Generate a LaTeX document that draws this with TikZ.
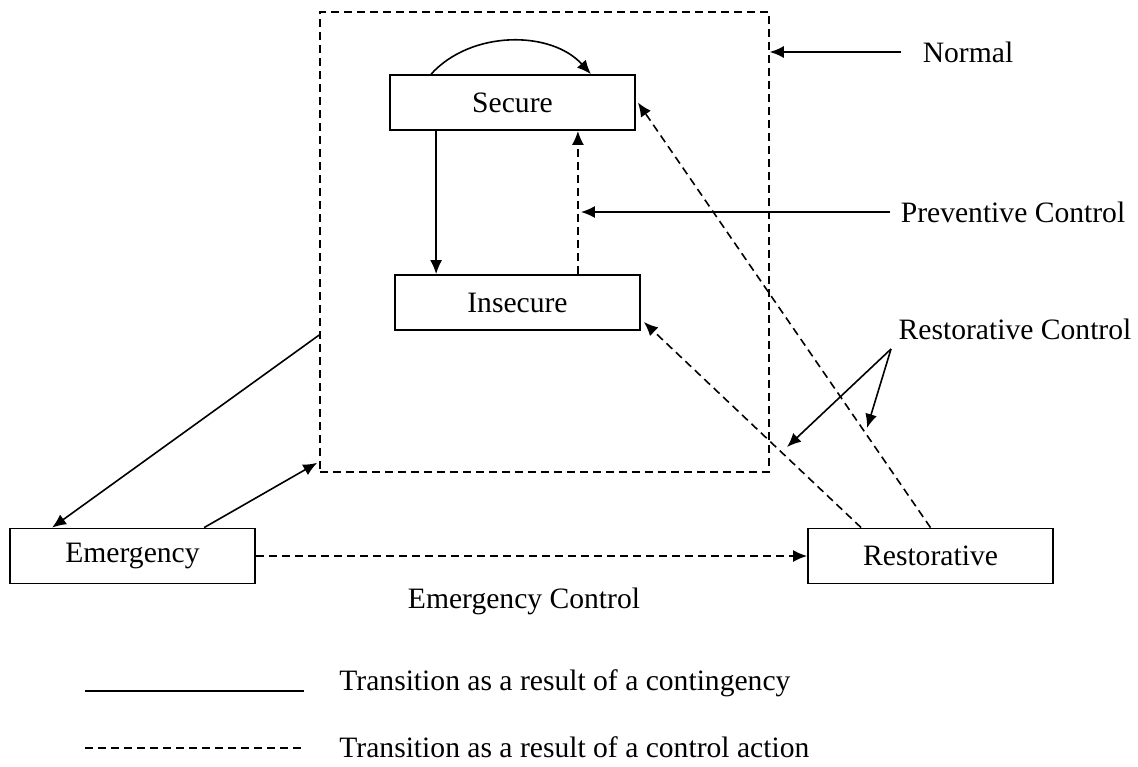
\documentclass[tikz,border=0pt]{standalone}
\usepackage{fontspec}
\setmainfont{Liberation Serif}
\usetikzlibrary{arrows.meta}
\tikzset{
	statebox/.style={draw=black, line width=0.9pt, minimum width=122.5pt, minimum height=27.5pt, inner sep=0pt, font=\fontsize{14.8}{17}\selectfont},
	lbl/.style={inner sep=0pt, font=\fontsize{14.8}{17}\selectfont},
	trans/.style={black, line width=0.8pt},
	ctrl/.style={black, line width=0.8pt, dash pattern=on 4pt off 2.5pt},
	tip/.style={-{Latex[length=7pt,width=6pt]}}
}
\begin{document}
\begin{tikzpicture}[x=0.5pt, y=-0.5pt]
	\useasboundingbox (0,0) rectangle (1138,766);
	\node[ctrl, draw, minimum width=224.5pt, minimum height=230pt, inner sep=0pt] (normal) at (544.5,242) {};
	\node[statebox] (secure) at (512.5,102.5) {Secure};
	\node[statebox] (insecure) at (517.5,302.5) {Insecure};
	\node[statebox] (emergency) at (132.5,556) {Emergency};
	\node[statebox] (restorative) at (930.5,556) {Restorative};
	\node[lbl] (normallbl) at (968,52) {Normal};
	\node[lbl] (prevlbl) at (1013,212) {Preventive Control};
	\node[lbl] (restlbl) at (1015,329) {Restorative Control};
	\node[lbl] (emerglbl) at (524,601) {Emergency Control};
	\coordinate (rcfork) at (891,349);
	\coordinate (rcend1) at (787,447);
	\coordinate (rcend2) at (867,428);
	%secure / insecure
	\draw[trans, tip] ([xshift=21pt]secure.north west) .. controls +(40,-44) and +(-40,-44) .. ([xshift=-22.5pt]secure.north east);
	\draw[trans, tip] ([xshift=23.5pt]secure.south west) -- ([xshift=23.5pt]secure.south west |- insecure.north);
	\draw[ctrl, tip] ([xshift=-31.5pt]insecure.north east) -- ([xshift=-31.5pt]insecure.north east |- secure.south);
	%labels
	\draw[trans, tip] ([xshift=-10.5pt]normallbl.west) -- (normallbl.west -| normal.east);
	\draw[trans, tip] ([xshift=-5pt]prevlbl.west) -- ([xshift=-30pt]prevlbl.west -| insecure.north east);
	\draw[trans, tip] (rcfork) -- (rcend1);
	\draw[trans, tip] (rcfork) -- (rcend2);
	%emergency
	\draw[trans, tip] ([yshift=-46.5pt]normal.west) -- ([xshift=21.5pt]emergency.north west);
	\draw[trans, tip] ([xshift=97.5pt]emergency.north west) -- ([xshift=-1pt,yshift=5pt]normal.south west);
	\draw[ctrl, tip] (emergency.east) -- (restorative.west);
	%restorative
	\draw[ctrl, tip] ([xshift=27pt]restorative.north west) -- ([xshift=1.5pt,yshift=-9.75pt]insecure.east);
	\draw[ctrl, tip] (restorative.north) -- ([xshift=1pt]secure.east);
	%legend
	\node[lbl, anchor=west] (legend1) at (339,683) {Transition as a result of a contingency};
	\node[lbl, anchor=west] (legend2) at (339,747) {Transition as a result of a control action};
	\draw[trans] (85,691) -- (304,691);
	\draw[ctrl] (85,748) -- (304,748);
\end{tikzpicture}
\end{document}
